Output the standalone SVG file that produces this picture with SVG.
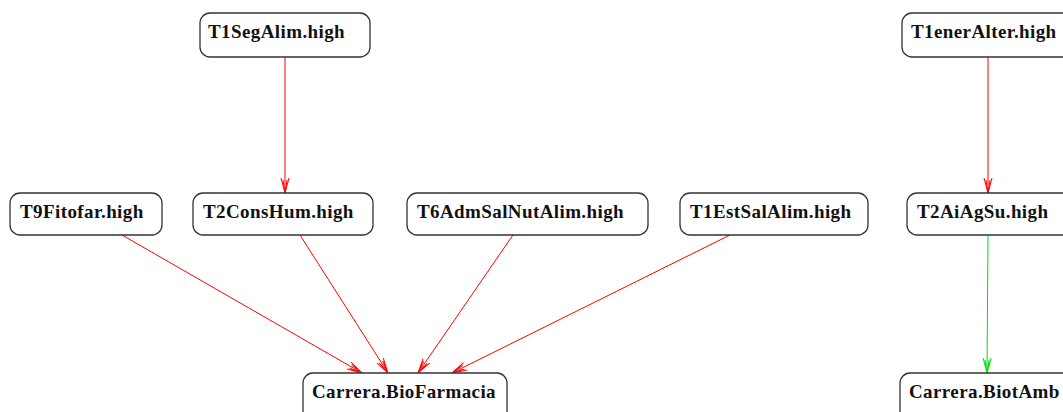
<svg xmlns="http://www.w3.org/2000/svg" width="1063" height="412" viewBox="0 0 1063 412">
<style>
.box{fill:#fff;stroke:#333;stroke-width:1.3}
.lbl{font-family:"Liberation Serif","Times New Roman",serif;font-weight:bold;font-size:19px;letter-spacing:0.4px;fill:#111}
.e{fill:none;stroke-width:1}
.red{stroke:#ff0000}
.green{stroke:#00e000}
</style>
<defs>
<marker id="ar" markerUnits="userSpaceOnUse" markerWidth="16" markerHeight="10" refX="15" refY="5" orient="auto">
<path d="M0,1 L15,5 L0,9 M2,3 L15,5 L2,7" fill="none" stroke="#ff0000" stroke-width="1"/>
</marker>
<marker id="ag" markerUnits="userSpaceOnUse" markerWidth="16" markerHeight="10" refX="15" refY="5" orient="auto">
<path d="M0,1 L15,5 L0,9 M2,3 L15,5 L2,7" fill="none" stroke="#00e000" stroke-width="1"/>
</marker>
</defs>
<rect width="1063" height="412" fill="#fff"/>
<g id="connectors">
<line class="e red" x1="285" y1="57" x2="285" y2="193" marker-end="url(#ar)"/>
<line class="e red" x1="988" y1="57" x2="988" y2="193" marker-end="url(#ar)"/>
<line class="e green" x1="988" y1="235" x2="987" y2="373" marker-end="url(#ag)"/>
<line class="e red" x1="122" y1="235" x2="362" y2="373" marker-end="url(#ar)"/>
<line class="e red" x1="300" y1="235" x2="388" y2="373" marker-end="url(#ar)"/>
<line class="e red" x1="513" y1="235" x2="418" y2="373" marker-end="url(#ar)"/>
<line class="e red" x1="730" y1="235" x2="452" y2="373" marker-end="url(#ar)"/>
</g>
<g id="T1SegAlim"><rect class="box" x="200" y="13" width="170" height="44" rx="10"/><text class="lbl" x="208" y="38">T1SegAlim.high</text></g>
<g id="T1enerAlter"><rect class="box" x="902" y="13" width="175" height="44" rx="10"/><text class="lbl" x="911" y="38">T1enerAlter.high</text></g>
<g id="T9Fitofar"><rect class="box" x="10" y="193" width="152" height="42" rx="10"/><text class="lbl" x="20" y="218">T9Fitofar.high</text></g>
<g id="T2ConsHum"><rect class="box" x="193" y="193" width="180" height="42" rx="10"/><text class="lbl" x="203" y="218">T2ConsHum.high</text></g>
<g id="T6AdmSalNutAlim"><rect class="box" x="407" y="193" width="241" height="42" rx="10"/><text class="lbl" x="417" y="218">T6AdmSalNutAlim.high</text></g>
<g id="T1EstSalAlim"><rect class="box" x="680" y="193" width="188" height="42" rx="10"/><text class="lbl" x="690" y="218">T1EstSalAlim.high</text></g>
<g id="T2AiAgSu"><rect class="box" x="907" y="193" width="170" height="42" rx="10"/><text class="lbl" x="917" y="218">T2AiAgSu.high</text></g>
<g id="BioFarmacia"><rect class="box" x="303" y="373" width="204" height="50" rx="10"/><text class="lbl" x="312" y="398">Carrera.BioFarmacia</text></g>
<g id="BiotAmb"><rect class="box" x="900" y="373" width="180" height="50" rx="10"/><text class="lbl" x="909" y="398">Carrera.BiotAmb</text></g>
</svg>
